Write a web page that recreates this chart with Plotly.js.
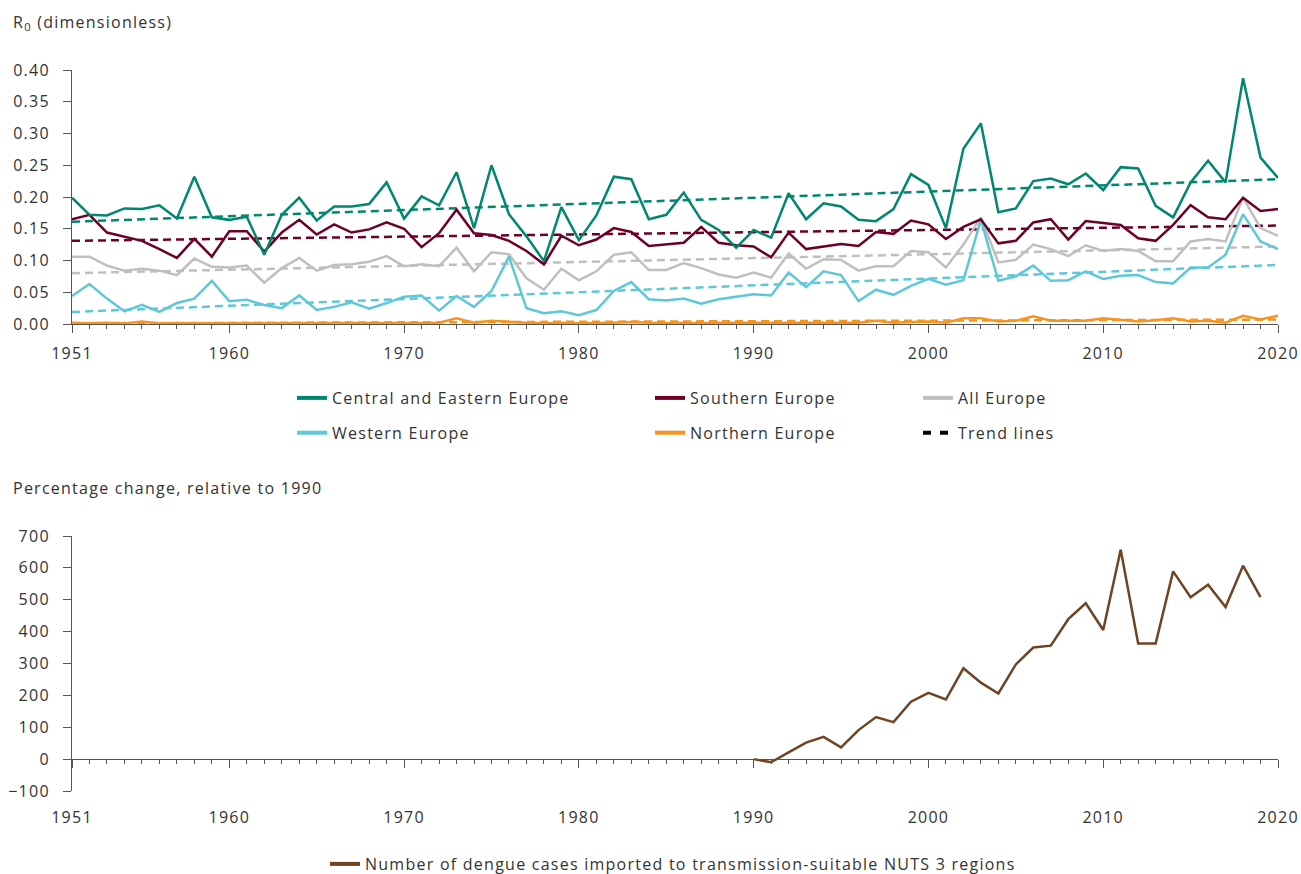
<!DOCTYPE html>
<html>
<head>
<meta charset="utf-8">
<script src="https://cdn.plot.ly/plotly-3.0.1.min.js"></script>
<style>
html,body{margin:0;padding:0;background:#fff;}
#chart{width:1301px;height:874px;}
svg text{letter-spacing:1.25px;}
</style>
</head>
<body>
<div id="chart"></div>
<script>
// ---------- DATA ----------
const years = [];
for (let y = 1951; y <= 2020; y++) years.push(y);

const centralEastern = [0.199,0.172,0.171,0.182,0.181,0.187,0.166,0.232,0.168,0.164,0.169,0.109,0.172,0.199,0.163,
  0.185,0.185,0.189,0.223,0.166,0.201,0.187,0.239,0.151,0.250,0.173,0.138,0.099,0.184,0.132,0.171,0.232,0.228,
  0.165,0.172,0.207,0.164,0.148,0.120,0.148,0.136,0.206,0.165,0.190,0.185,0.164,0.162,0.181,0.236,0.219,0.151,0.276,
  0.316,0.176,0.182,0.225,0.229,0.220,0.237,0.211,0.247,0.245,0.186,0.168,0.223,0.257,0.223,0.387,0.262,0.230];

const southern = [0.165,0.172,0.144,0.138,0.131,0.118,0.104,0.134,0.106,0.146,0.146,0.114,0.144,0.164,0.141,
  0.157,0.144,0.149,0.160,0.150,0.121,0.143,0.180,0.143,0.140,0.131,0.115,0.094,0.139,0.124,0.133,0.151,0.145,
  0.123,0.126,0.128,0.153,0.128,0.124,0.122,0.105,0.144,0.118,0.122,0.126,0.123,0.145,0.142,0.163,0.157,0.134,0.153,
  0.165,0.127,0.131,0.160,0.165,0.133,0.162,0.159,0.156,0.135,0.131,0.156,0.187,0.168,0.165,0.199,0.178,0.181];

const allEurope = [0.106,0.106,0.092,0.084,0.087,0.084,0.077,0.103,0.090,0.089,0.092,0.065,0.088,0.104,0.084,
  0.093,0.094,0.098,0.107,0.091,0.094,0.091,0.120,0.083,0.113,0.110,0.072,0.054,0.087,0.069,0.083,0.109,0.113,
  0.085,0.085,0.096,0.088,0.078,0.073,0.081,0.073,0.111,0.087,0.102,0.101,0.084,0.091,0.091,0.115,0.113,0.089,0.125,
  0.168,0.097,0.101,0.125,0.118,0.107,0.124,0.115,0.118,0.115,0.099,0.099,0.130,0.134,0.130,0.199,0.151,0.139];

const western = [0.044,0.063,0.040,0.020,0.030,0.019,0.033,0.040,0.068,0.036,0.038,0.030,0.025,0.045,0.022,
  0.027,0.034,0.024,0.033,0.043,0.045,0.021,0.044,0.027,0.052,0.106,0.025,0.017,0.020,0.014,0.022,0.052,0.066,
  0.039,0.037,0.040,0.032,0.039,0.043,0.047,0.045,0.081,0.058,0.083,0.077,0.036,0.054,0.046,0.060,0.071,0.062,0.069,
  0.164,0.068,0.075,0.092,0.068,0.069,0.083,0.071,0.076,0.077,0.066,0.064,0.089,0.089,0.109,0.173,0.130,0.118];

const northern = [0.002,0.001,0.002,0.001,0.004,0.001,0.001,0.001,0.002,0.002,0.001,0.001,0.001,0.001,0.001,
  0.001,0.001,0.001,0.001,0.002,0.002,0.002,0.009,0.002,0.005,0.003,0.002,0.001,0.002,0.001,0.001,0.002,0.003,
  0.002,0.001,0.002,0.001,0.002,0.002,0.002,0.002,0.003,0.003,0.002,0.003,0.002,0.005,0.002,0.003,0.004,0.002,0.009,
  0.009,0.004,0.005,0.012,0.005,0.005,0.005,0.009,0.006,0.004,0.006,0.009,0.004,0.005,0.002,0.013,0.007,0.013];

// trend lines: values read at 1951 and 2020
const trendYears = [1951, 2020];
const trendCentralEastern = [0.161, 0.228];
const trendSouthern = [0.131, 0.155];
const trendAllEurope = [0.080, 0.122];
const trendWestern = [0.019, 0.093];
const trendNorthern = [0.001, 0.007];

const dengueYears = [];
for (let y = 1990; y <= 2019; y++) dengueYears.push(y);
const dengueChange = [0,-10,21,52,70,37,91,132,116,180,208,187,285,240,206,297,350,356,439,489,405,657,363,363,589,508,547,477,607,508];

const xTickVals = [1951,1960,1970,1980,1990,2000,2010,2020];
const r0TickVals = [0,0.05,0.10,0.15,0.20,0.25,0.30,0.35,0.40];
const pctTickVals = [-100,0,100,200,300,400,500,600,700];

// ---------- STYLE ----------
const C = {
  ce: '#00876f', so: '#6e0027', all: '#bfbfbf', we: '#5fc8d8', no: '#f7941d', dengue: '#6f4424'
};
const W = 1301, H = 874;
const xDom = [72/W, 1278/W];
const y1Dom = [1-324/H, 1-70/H];
const y2Dom = [1-791/H, 1-536/H];
const y2Range = [-100, 700];
const zeroPos = y2Dom[0] + (0 - y2Range[0])/(y2Range[1]-y2Range[0])*(y2Dom[1]-y2Dom[0]);

const FONT = {family: '"Open Sans", sans-serif', size: 16, color: '#333'};
const AX = '#555';

function line(x, y, color, name, dash) {
  return {x: x, y: y, type: 'scatter', mode: 'lines', name: name, showlegend: false,
    line: {color: color, width: 2.5, dash: dash || 'solid'}, hoverinfo: 'skip', xaxis: 'x', yaxis: 'y'};
}
function legendItem(name, color, legend, dash, width) {
  return {x: [null], y: [null], type: 'scatter', mode: 'lines', name: name, legend: legend,
    legendgroup: name, showlegend: true,
    line: {color: color, width: width || 4, dash: dash || 'solid'}, xaxis: 'x', yaxis: 'y'};
}

const traces = [
  line(trendYears, trendAllEurope, C.all, 'All trend', '8px,5px'),
  line(trendYears, trendWestern, C.we, 'West trend', '8px,5px'),
  line(trendYears, trendNorthern, C.no, 'North trend', '8px,5px'),
  line(trendYears, trendSouthern, C.so, 'South trend', '8px,5px'),
  line(trendYears, trendCentralEastern, C.ce, 'CE trend', '8px,5px'),
  line(years, allEurope, C.all, 'All Europe'),
  line(years, western, C.we, 'Western Europe'),
  line(years, northern, C.no, 'Northern Europe'),
  line(years, southern, C.so, 'Southern Europe'),
  line(years, centralEastern, C.ce, 'Central and Eastern Europe'),
  legendItem('Central and Eastern Europe', C.ce, 'legend'),
  legendItem('Western Europe', C.we, 'legend'),
  legendItem('Southern Europe', C.so, 'legend2'),
  legendItem('Northern Europe', C.no, 'legend2'),
  legendItem('All Europe', C.all, 'legend3'),
  legendItem('Trend lines', '#000', 'legend3', '8px,9px', 4),
  {x: dengueYears, y: dengueChange, type: 'scatter', mode: 'lines', showlegend: false,
   line: {color: C.dengue, width: 2.5}, xaxis: 'x2', yaxis: 'y2', hoverinfo: 'skip'},
  {x: [null], y: [null], type: 'scatter', mode: 'lines', xaxis: 'x3', yaxis: 'y2',
   name: 'Number of dengue cases imported to transmission-suitable NUTS 3 regions',
   legend: 'legend4', showlegend: true, line: {color: C.dengue, width: 4}}
];

const minorTicks = {tickmode: 'array', tickvals: years, ticks: 'outside', ticklen: 4, tickwidth: 1, tickcolor: AX, showgrid: false};

const legendBase = {orientation: 'v', font: FONT, bgcolor: 'rgba(0,0,0,0)', borderwidth: 0,
  xanchor: 'left', yanchor: 'top', tracegroupgap: 11, traceorder: 'grouped'};

const layout = {
  width: W, height: H,
  margin: {l: 0, r: 0, t: 0, b: 0, autoexpand: false},
  paper_bgcolor: '#fff', plot_bgcolor: 'rgba(0,0,0,0)',
  font: FONT,
  showlegend: true,
  xaxis: {domain: xDom, range: [1951, 2020], anchor: 'y', tickmode: 'array', tickvals: xTickVals,
    ticks: 'outside', ticklen: 8, tickwidth: 1, tickcolor: AX, showline: true, linecolor: AX, linewidth: 1,
    showgrid: false, zeroline: false, tickfont: FONT, minor: minorTicks, fixedrange: true, ticklabelstandoff: 7},
  yaxis: {domain: y1Dom, range: [0, 0.4], anchor: 'x', tickmode: 'array', tickvals: r0TickVals, tickformat: '.2f',
    ticks: 'outside', ticklen: 8, tickwidth: 1, tickcolor: AX, showline: true, linecolor: AX, linewidth: 1,
    showgrid: false, zeroline: false, tickfont: FONT, fixedrange: true, ticklabelstandoff: 10},
  xaxis2: {domain: xDom, range: [1951, 2020], anchor: 'free', position: zeroPos, tickmode: 'array', tickvals: xTickVals,
    showticklabels: false, ticks: 'outside', ticklen: 8, tickwidth: 1, tickcolor: AX, showline: true, linecolor: AX,
    linewidth: 1, showgrid: false, zeroline: false, minor: minorTicks, fixedrange: true},
  xaxis3: {domain: xDom, range: [1951, 2020], overlaying: 'x2', anchor: 'y2', side: 'bottom', tickmode: 'array',
    tickvals: xTickVals, ticks: '', showline: false, showgrid: false, zeroline: false, tickfont: FONT,
    fixedrange: true, ticklabelstandoff: 15},
  yaxis2: {domain: y2Dom, range: y2Range, anchor: 'x2', tickmode: 'array', tickvals: pctTickVals,
    ticks: 'outside', ticklen: 8, tickwidth: 1, tickcolor: AX, showline: true, linecolor: AX, linewidth: 1,
    showgrid: false, zeroline: false, tickfont: FONT, fixedrange: true, ticklabelstandoff: 10},
  legend: Object.assign({}, legendBase, {x: 292/W, y: 1-381/H}),
  legend2: Object.assign({}, legendBase, {x: 650/W, y: 1-381/H}),
  legend3: Object.assign({}, legendBase, {x: 918/W, y: 1-381/H}),
  legend4: Object.assign({}, legendBase, {x: 325/W, y: 1-847/H}),
  annotations: [
    {text: 'R<sub>0</sub> (dimensionless)', xref: 'paper', yref: 'paper', x: 11/W, y: 1-22/H,
     xanchor: 'left', yanchor: 'middle', showarrow: false, font: FONT},
    {text: 'Percentage change, relative to 1990', xref: 'paper', yref: 'paper', x: 11/W, y: 1-488/H,
     xanchor: 'left', yanchor: 'middle', showarrow: false, font: FONT}
  ]
};

Plotly.newPlot('chart', traces, layout, {displayModeBar: false, staticPlot: true});
</script>
</body>
</html>
